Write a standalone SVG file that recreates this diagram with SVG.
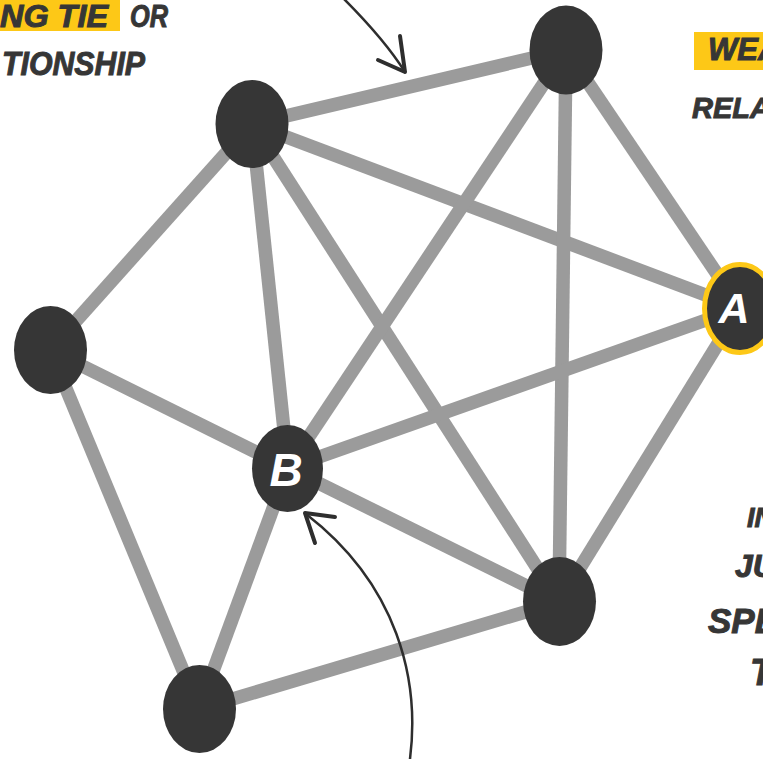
<svg xmlns="http://www.w3.org/2000/svg" width="763" height="759" viewBox="0 0 763 759">
  <style>
    .edge { stroke: #9b9b9b; stroke-width: 13.5; stroke-linecap: butt; fill: none; }
    .node { fill: #363636; }
    .hub { fill: #363636; stroke: #fdc817; stroke-width: 5; }
    .label { font-family: "Liberation Sans", Arial, sans-serif; font-weight: bold; font-style: italic; fill: #363636; stroke: #363636; stroke-width: 1; }
    .nodelabel { font-family: "Liberation Sans", Arial, sans-serif; font-weight: bold; font-style: italic; fill: #ffffff; text-anchor: middle; }
    .mark { fill: #fdc817; }
    .pointer { stroke: #2e2e2e; fill: none; stroke-linecap: round; stroke-linejoin: round; }
  </style>

  <rect width="763" height="759" fill="#ffffff"/>

  <!-- highlighter strips behind the captions -->
  <rect class="mark" x="0" y="0" width="120" height="31"/>
  <rect class="mark" x="694" y="32" width="69" height="38"/>

  <!-- captions (they run off the edges of the canvas) -->
  <text class="label" x="0" y="27" font-size="31" textLength="108" lengthAdjust="spacingAndGlyphs">NG TIE</text>
  <text class="label" x="130" y="27" font-size="31" textLength="38" lengthAdjust="spacingAndGlyphs">OR</text>
  <text class="label" x="2" y="75" font-size="33" textLength="143" lengthAdjust="spacingAndGlyphs">TIONSHIP</text>
  <text class="label" x="708" y="60" font-size="31">WEA</text>
  <text class="label" x="692" y="118" font-size="29">RELA</text>
  <text class="label" x="747" y="527" font-size="27">IN</text>
  <text class="label" x="735" y="577" font-size="32">JU</text>
  <text class="label" x="708" y="633" font-size="35">SPE</text>
  <text class="label" x="750" y="685" font-size="37">T</text>

  <!-- connectors -->
  <g id="edges">
    <line class="edge" x1="252" y1="124" x2="566" y2="50"/>
    <line class="edge" x1="252" y1="124" x2="50" y2="350"/>
    <line class="edge" x1="252" y1="124" x2="740" y2="308"/>
    <line class="edge" x1="252" y1="124" x2="288" y2="468"/>
    <line class="edge" x1="252" y1="124" x2="559" y2="602"/>
    <line class="edge" x1="566" y1="50" x2="288" y2="468"/>
    <line class="edge" x1="566" y1="50" x2="559" y2="602"/>
    <line class="edge" x1="566" y1="50" x2="740" y2="308"/>
    <line class="edge" x1="50" y1="350" x2="288" y2="468"/>
    <line class="edge" x1="50" y1="350" x2="199" y2="709"/>
    <line class="edge" x1="288" y1="468" x2="740" y2="308"/>
    <line class="edge" x1="288" y1="468" x2="559" y2="602"/>
    <line class="edge" x1="288" y1="468" x2="199" y2="709"/>
    <line class="edge" x1="559" y1="602" x2="740" y2="308"/>
    <line class="edge" x1="559" y1="602" x2="199" y2="709"/>
  </g>

  <!-- nodes -->
  <g id="n-top-left"><ellipse class="node" cx="252" cy="124" rx="36.5" ry="44"/></g>
  <g id="n-top-right"><ellipse class="node" cx="566" cy="50" rx="36.5" ry="44.5"/></g>
  <g id="n-left"><ellipse class="node" cx="50.5" cy="350" rx="36.5" ry="44"/></g>
  <g id="n-bottom-right"><ellipse class="node" cx="559.5" cy="601.5" rx="36.5" ry="44.5"/></g>
  <g id="n-bottom"><ellipse class="node" cx="199.5" cy="709" rx="36.5" ry="44"/></g>
  <g id="n-a">
    <ellipse class="hub" cx="740" cy="308.5" rx="35.5" ry="44"/>
    <text class="nodelabel" x="734" y="323" font-size="43">A</text>
  </g>
  <g id="n-b">
    <ellipse class="node" cx="287.5" cy="468.5" rx="35.5" ry="43.5"/>
    <text class="nodelabel" x="286" y="486" font-size="46">B</text>
  </g>

  <!-- pointer arrows -->
  <g id="pointers">
    <path class="pointer" stroke-width="2.5" d="M343,-2 C365,20 388,45 405,72"/>
    <path class="pointer" stroke-width="4" d="M400,36 L405,72 L378,60"/>
    <path class="pointer" stroke-width="2.5" d="M410,759 C420,680 398,585 306,514"/>
    <path class="pointer" stroke-width="4" d="M335,517 L305,513 L315,543"/>
  </g>
</svg>
